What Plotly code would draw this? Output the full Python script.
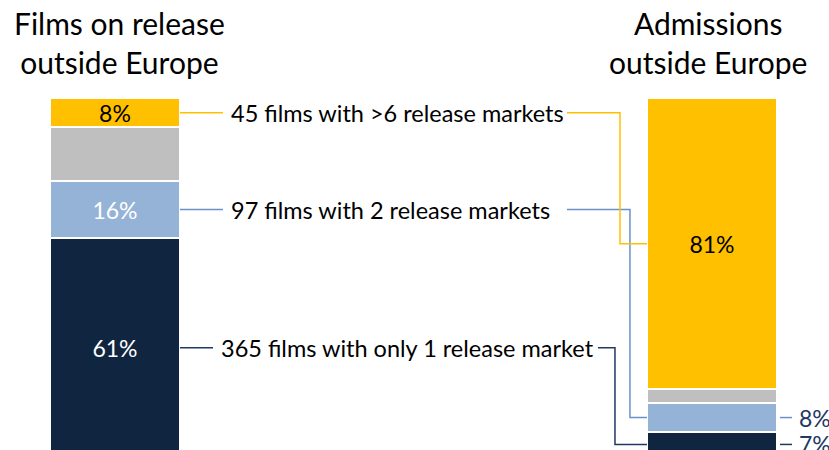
import plotly.graph_objects as go

# segments from bottom to top of each bar
segments = ["1 release market", "2 release markets", "3-6 release markets", ">6 release markets"]
films_share = [61, 16, 15, 8]
admissions_share = [7, 8, 4, 81]
bar_titles = ["Films on release<br>outside Europe", "Admissions<br>outside Europe"]
callouts = ["365 films with only 1 release market", "97 films with 2 release markets", None, "45 films with >6 release markets"]

colors = ["#10253F", "#95B3D7", "#BFBFBF", "#FFC000"]
line_colors = ["#1F3864", "#6A91C9", None, "#FFC000"]
text_colors = ["white", "white", "black", "black"]
FONT = "Lato"

bar_x = [0, 1]
bar_w = 0.2178


def mids(values):
    out, base = [], 0
    for v in values:
        out.append(base + v / 2)
        base += v
    return out


fig = go.Figure()

for i, seg in enumerate(segments):
    txt = ["%d%%" % films_share[i] if seg != "3-6 release markets" else "",
           "%d%%" % admissions_share[i] if admissions_share[i] > 50 else ""]
    fig.add_trace(go.Bar(
        name=seg,
        x=bar_x,
        y=[films_share[i], admissions_share[i]],
        width=bar_w,
        marker=dict(color=colors[i], line=dict(color="white", width=2)),
        text=txt,
        textposition="inside",
        insidetextanchor="middle",
        textangle=0,
        constraintext="none",
        textfont=dict(family=FONT, size=23, color=text_colors[i]),
        hoverinfo="skip",
    ))

left_mid = mids(films_share)
right_mid = mids(admissions_share)

# callout positions (x in bar units): line to label, label start, resume after label, elbow
callout_geom = {
    0: (0.1642, 0.1742, 0.8090, 0.8375),
    1: (0.1809, 0.1910, 0.7571, 0.8626),
    3: (0.1809, 0.1910, 0.7571, 0.8459),
}
edge_l = bar_x[0] + bar_w / 2
edge_r = bar_x[1] - bar_w / 2

for i, (x_end, x_txt, x_resume, x_elbow) in callout_geom.items():
    lc = line_colors[i]
    yl, yr = left_mid[i], right_mid[i]
    fig.add_shape(type="line", xref="x", yref="y", x0=edge_l, x1=x_end, y0=yl, y1=yl,
                  line=dict(color=lc, width=1.5))
    fig.add_shape(type="path", xref="x", yref="y",
                  path=f"M {x_resume},{yl} L {x_elbow},{yl} L {x_elbow},{yr} L {edge_r},{yr}",
                  line=dict(color=lc, width=1.5))
    fig.add_annotation(x=x_txt, y=yl, xref="x", yref="y", text=callouts[i], showarrow=False,
                       xanchor="left", yanchor="middle",
                       font=dict(family=FONT, size=23.5, color="black"))

# small outside labels on the admissions bar
for i in [0, 1]:
    yr = right_mid[i]
    fig.add_shape(type="line", xref="x", yref="y", x0=1.1139, x1=1.134, y0=yr, y1=yr,
                  line=dict(color=line_colors[i], width=1.5))
    fig.add_annotation(x=1.142, y=yr, xref="x", yref="y", text="%d%%" % admissions_share[i],
                       showarrow=False, xanchor="left", yanchor="middle",
                       font=dict(family=FONT, size=23, color="#1F3864"))

# titles
for bx, t in zip(bar_x, bar_titles):
    fig.add_annotation(x=bx + (0.008 if bx == 0 else -0.006), y=115.6, xref="x", yref="y", text=t,
                       showarrow=False, xanchor="center", yanchor="middle",
                       font=dict(family=FONT, size=30, color="black"))

fig.update_layout(
    width=829, height=450,
    margin=dict(l=0, r=0, t=0, b=0),
    barmode="stack",
    showlegend=False,
    plot_bgcolor="white",
    paper_bgcolor="white",
    xaxis=dict(range=[-0.1926, 1.196], visible=False, fixedrange=True),
    yaxis=dict(range=[1.95, 127.45], visible=False, fixedrange=True),
)

fig.write_html("out.html", config={"displayModeBar": False},
               post_script="document.body.style.margin='0';")
